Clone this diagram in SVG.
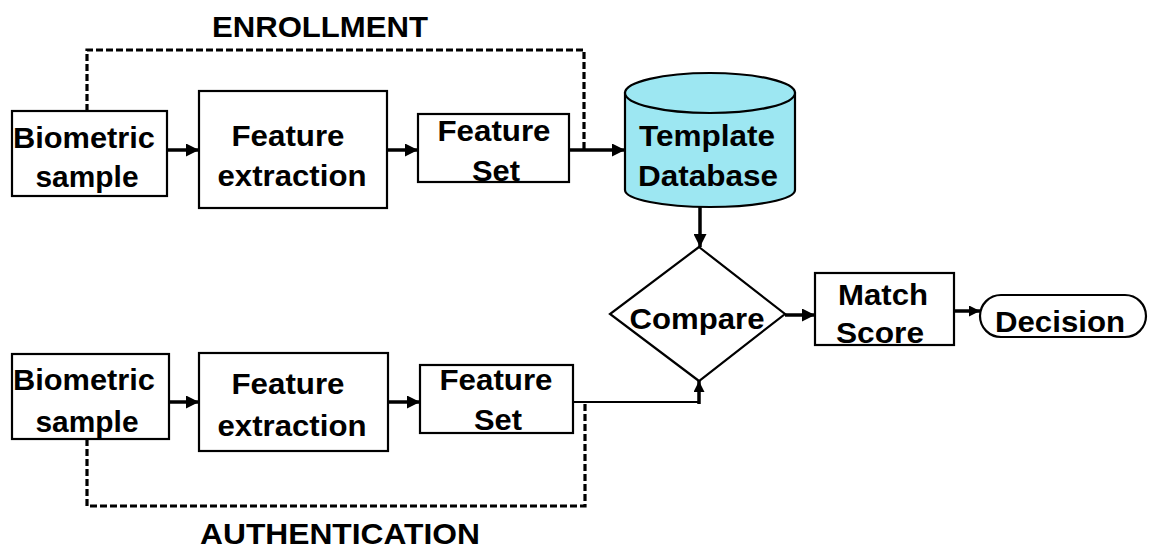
<svg xmlns="http://www.w3.org/2000/svg" width="1149" height="549" viewBox="0 0 1149 549">
  <style>
    text { font-family: "Liberation Sans", Arial, sans-serif; font-weight: bold; font-size: 30px; fill: #000; text-anchor: middle; }
    .box { fill: #fff; stroke: #000; stroke-width: 2.2; }
    .db { fill: #9DE7F2; stroke: #000; stroke-width: 2.2; }
    .flow { fill: none; stroke: #000; stroke-width: 3.5; }
    .thin { fill: none; stroke: #000; stroke-width: 2; }
    .dash { fill: none; stroke: #000; stroke-width: 3.2; stroke-dasharray: 7 3; }
  </style>
  <defs>
    <marker id="head" markerUnits="userSpaceOnUse" viewBox="0 0 13 13" refX="13" refY="6.5" markerWidth="13" markerHeight="13" orient="auto">
      <path d="M0,0 L13,6.5 L0,13 Z" fill="#000"/>
    </marker>
    <marker id="headSmall" markerUnits="userSpaceOnUse" viewBox="0 0 11 11" refX="11" refY="5.5" markerWidth="11" markerHeight="11" orient="auto">
      <path d="M0,0 L11,5.5 L0,11 Z" fill="#000"/>
    </marker>
  </defs>

  <!-- phase labels -->
  <text x="320" y="37" textLength="216" lengthAdjust="spacingAndGlyphs">ENROLLMENT</text>
  <text x="340" y="544" textLength="280" lengthAdjust="spacingAndGlyphs">AUTHENTICATION</text>

  <g id="connectors">
    <!-- enrollment bypass and authentication bypass -->
    <path class="dash" d="M87,111 V50 H584 V150"/>
    <path class="dash" d="M87,439 V506 H585 V403"/>
    <!-- enrollment row -->
    <line class="flow" x1="167" y1="150" x2="199" y2="150" marker-end="url(#head)"/>
    <line class="flow" x1="387" y1="150" x2="418" y2="150" marker-end="url(#head)"/>
    <line class="flow" x1="569" y1="150" x2="625" y2="150" marker-end="url(#head)"/>
    <line class="flow" x1="700" y1="207" x2="700" y2="247" marker-end="url(#head)"/>
    <!-- authentication row -->
    <line class="flow" x1="169" y1="402" x2="199" y2="402" marker-end="url(#head)"/>
    <line class="flow" x1="388" y1="402" x2="420" y2="402" marker-end="url(#head)"/>
    <path class="thin" d="M573,402 H699"/>
    <line class="flow" x1="699" y1="404" x2="699" y2="381" marker-end="url(#headSmall)"/>
    <!-- comparison and result -->
    <line class="flow" x1="785" y1="315" x2="815" y2="315" marker-end="url(#head)"/>
    <line class="flow" x1="954" y1="311" x2="980" y2="311" stroke-width="2.5" marker-end="url(#headSmall)"/>
  </g>

  <g id="enroll-sample">
    <rect class="box" x="12" y="111" width="155" height="85"/>
    <text x="84" y="148" textLength="142" lengthAdjust="spacingAndGlyphs">Biometric</text>
    <text x="87" y="187" textLength="103" lengthAdjust="spacingAndGlyphs">sample</text>
  </g>
  <g id="enroll-extraction">
    <rect class="box" x="199" y="91" width="188" height="117"/>
    <text x="288" y="146" textLength="113" lengthAdjust="spacingAndGlyphs">Feature</text>
    <text x="292" y="186" textLength="149" lengthAdjust="spacingAndGlyphs">extraction</text>
  </g>
  <g id="enroll-featureset">
    <rect class="box" x="418" y="114" width="151" height="68"/>
    <text x="494" y="141" textLength="113" lengthAdjust="spacingAndGlyphs">Feature</text>
    <text x="496" y="181" textLength="48" lengthAdjust="spacingAndGlyphs">Set</text>
  </g>
  <g id="template-db">
    <path class="db" d="M625,93 V190 A85,17 0 0 0 795,190 V93 Z"/>
    <ellipse class="db" cx="710" cy="93" rx="85" ry="20"/>
    <text x="707" y="146" textLength="136" lengthAdjust="spacingAndGlyphs">Template</text>
    <text x="708" y="186" textLength="140" lengthAdjust="spacingAndGlyphs">Database</text>
  </g>
  <g id="compare">
    <polygon class="box" points="699,247 785,314 699,381 610,314"/>
    <text x="697" y="329" textLength="135" lengthAdjust="spacingAndGlyphs">Compare</text>
  </g>
  <g id="match-score">
    <rect class="box" x="815" y="273" width="139" height="72"/>
    <text x="883" y="305" textLength="90" lengthAdjust="spacingAndGlyphs">Match</text>
    <text x="880" y="343" textLength="88" lengthAdjust="spacingAndGlyphs">Score</text>
  </g>
  <g id="decision">
    <rect class="box" x="980" y="295" width="166" height="42" rx="21" ry="21"/>
    <text x="1060" y="332" textLength="130" lengthAdjust="spacingAndGlyphs">Decision</text>
  </g>

  <g id="auth-sample">
    <rect class="box" x="12" y="354" width="157" height="85"/>
    <text x="84" y="390" textLength="142" lengthAdjust="spacingAndGlyphs">Biometric</text>
    <text x="87" y="432" textLength="103" lengthAdjust="spacingAndGlyphs">sample</text>
  </g>
  <g id="auth-extraction">
    <rect class="box" x="199" y="353" width="189" height="98"/>
    <text x="288" y="394" textLength="113" lengthAdjust="spacingAndGlyphs">Feature</text>
    <text x="292" y="436" textLength="149" lengthAdjust="spacingAndGlyphs">extraction</text>
  </g>
  <g id="auth-featureset">
    <rect class="box" x="420" y="365" width="153" height="68"/>
    <text x="496" y="390" textLength="113" lengthAdjust="spacingAndGlyphs">Feature</text>
    <text x="498" y="430" textLength="48" lengthAdjust="spacingAndGlyphs">Set</text>
  </g>
</svg>
